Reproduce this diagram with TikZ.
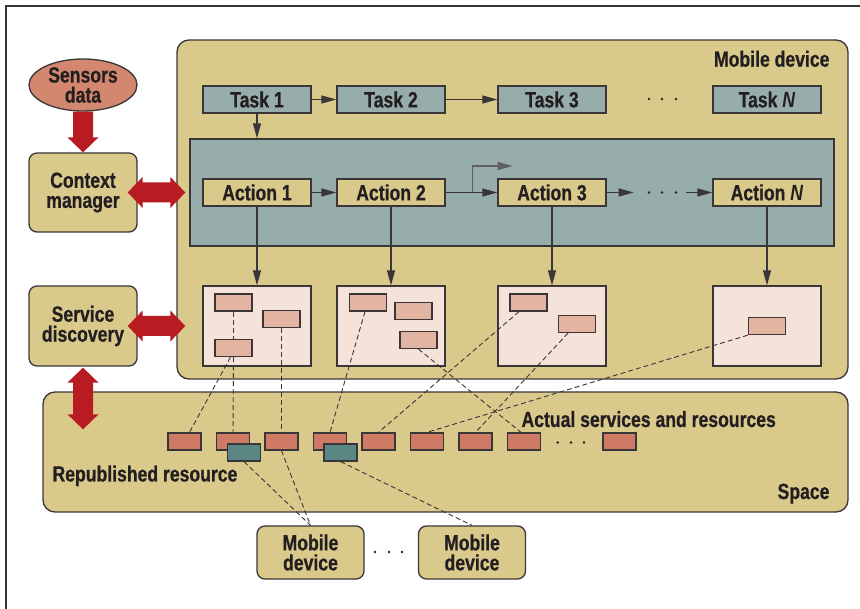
\documentclass[tikz,border=0pt]{standalone}
\usepackage{fontspec}
\setmainfont{Liberation Sans}[FakeStretch=0.8, BoldFeatures={FakeBold=0.6}]
\usetikzlibrary{arrows.meta,calc,shapes.geometric}
\definecolor{cTan}{HTML}{D9C98B}
\definecolor{cTeal}{HTML}{97ADAB}
\definecolor{cPink}{HTML}{F5E2D9}
\definecolor{cSalm}{HTML}{E4B4A2}
\definecolor{cRes}{HTML}{CF7A64}
\definecolor{cDTeal}{HTML}{5A8784}
\definecolor{cRed}{HTML}{B81C22}
\definecolor{cSens}{HTML}{D4876F}
\definecolor{cLine}{HTML}{3A3637}
\definecolor{cText}{HTML}{231F20}
\newcommand{\hdarrow}[2]{%
  \fill[cRed] let \p1=#1, \p2=#2 in
   (\x1,\y1) -- (\x1+15pt,\y1+15.5pt) -- (\x1+15pt,\y1+10pt) -- (\x2-15pt,\y1+10pt) -- (\x2-15pt,\y1+15.5pt) -- (\x2,\y1) -- (\x2-15pt,\y1-15.5pt) -- (\x2-15pt,\y1-10pt) -- (\x1+15pt,\y1-10pt) -- (\x1+15pt,\y1-15.5pt) -- cycle;}
\newcommand{\vdarrow}[2]{%
  \fill[cRed] let \p1=#1, \p2=#2 in
   (\x1,\y1) -- (\x1+15.5pt,\y1-15pt) -- (\x1+10pt,\y1-15pt) -- (\x1+10pt,\y2+15pt) -- (\x1+15.5pt,\y2+15pt) -- (\x1,\y2) -- (\x1-15.5pt,\y2+15pt) -- (\x1-10pt,\y2+15pt) -- (\x1-10pt,\y1-15pt) -- (\x1-15.5pt,\y1-15pt) -- cycle;}
\newcommand{\vsarrow}[2]{%
  \fill[cRed] let \p1=#1, \p2=#2 in
   (\x1-10pt,\y1) -- (\x1+10pt,\y1) -- (\x1+10pt,\y2+15pt) -- (\x1+15.5pt,\y2+15pt) -- (\x1,\y2) -- (\x1-15.5pt,\y2+15pt) -- (\x1-10pt,\y2+15pt) -- cycle;}
\begin{document}
\begin{tikzpicture}[x=1pt,y=-1pt,
  txt/.style={text=cText, font=\fontsize{22}{20}\selectfont\bfseries, align=center},
  box/.style={draw=cLine, line width=1.3pt, inner sep=0pt, txt},
  bigbox/.style={box, fill=cTan, rounded corners=12pt},
  rbox/.style={box, fill=cTan, rounded corners=8pt, minimum width=108pt, minimum height=79pt},
  taskbox/.style={box, fill=cTeal, minimum width=108pt, minimum height=27pt},
  actbox/.style={box, fill=cTan, minimum width=108pt, minimum height=27pt},
  panel/.style={box, fill=cPink, minimum width=108pt, minimum height=80pt},
  sbox/.style={box, fill=cSalm, minimum width=37pt, minimum height=17pt},
  resbox/.style={box, fill=cRes, minimum width=33pt, minimum height=17pt},
  tealbox/.style={box, fill=cDTeal, minimum width=33pt, minimum height=17pt},
  arr/.style={line width=1.1pt, draw=cLine, -{Triangle[length=15pt,width=8pt]}},
  dsh/.style={line width=0.9pt, draw=cLine, dash pattern=on 5pt off 3pt},
  dotc/.style={fill=cText}
]
\useasboundingbox (0,0) rectangle (860,609);
\fill[white] (0,0) rectangle (860,609);
% frame
\draw[line width=2pt, cLine] (6,609) -- (6,6.5) -- (860,6.5);

% big containers
\node[bigbox, minimum width=671pt, minimum height=339pt] (md) at (512.5,209.5) {};
\node[bigbox, minimum width=805pt, minimum height=120pt] (sp) at (445.5,452) {};
\node[box, fill=cTeal, minimum width=644pt, minimum height=107pt] (ap) at (512,192.5) {};

% left column
\node[box, ellipse, fill=cSens, minimum width=108pt, minimum height=52pt] (sens) at (83,85) {Sensors\\data};
\node[rbox] (ctx) at (83,192.5) {Context\\manager};
\node[rbox, minimum height=80pt] (sd) at (83,326) {Service\\discovery};

% labels
\node[txt, anchor=base east] (lmd) at (833,66.7) {Mobile device};
\node[txt, anchor=base west] (lact) at (518,427) {Actual services and resources};
\node[txt, anchor=base west] (lrep) at (49,481.5) {Republished resource};
\node[txt, anchor=base east] (lsp) at (833,499) {Space};

% tasks
\node[taskbox] (t1) at (257,99.5) {Task 1};
\node[taskbox] (t2) at (391,99.5) {Task 2};
\node[taskbox] (t3) at (552,99.5) {Task 3};
\node[taskbox] (tn) at (767,99.5) {Task \textit{N}};
\draw[arr] (t1.east) -- (t2.west);
\draw[arr] (t2.east) -- (t3.west);
\draw[arr] (t1.south) -- (t1.south |- ap.north);
\foreach \x in {649,662,676} \fill[dotc] (\x,99) circle (1.3pt);

% actions
\node[actbox] (a1) at (257,192.5) {Action 1};
\node[actbox] (a2) at (391,192.5) {Action 2};
\node[actbox] (a3) at (552,192.5) {Action 3};
\node[actbox] (an) at (767,192.5) {Action \textit{N}};
\draw[arr] (a1.east) -- (a2.west);
\draw[arr] (a2.east) -- (a3.west);
\coordinate (br) at ($(a2.east)+(27,0)$);
\draw[arr, draw=cLine!80] (br) -- ++(0,-26.5) -- ++(40,0);
\coordinate (ad) at ($(a3.east)+(27,0)$);
\draw[arr] (a3.east) -- (ad);
\coordinate (ae) at ($(an.west)+(-26,0)$);
\draw[arr] (ae) -- (an.west);
\foreach \x in {649,662,676} \fill[dotc] (\x,192.5) circle (1.3pt);

% panels
\node[panel] (p1) at (257,326) {};
\node[panel] (p2) at (391,326) {};
\node[panel] (p3) at (552,326) {};
\node[panel] (pn) at (767,326) {};
\draw[arr] (a1.south) -- (p1.north);
\draw[arr] (a2.south) -- (p2.north);
\draw[arr] (a3.south) -- (p3.north);
\draw[arr] (an.south) -- (pn.north);

\node[sbox] (p1a) at (233.5,302.5) {};
\node[sbox] (p1b) at (281.5,319) {};
\node[sbox] (p1c) at (233.5,348) {};
\node[sbox] (p2a) at (368,302.5) {};
\node[sbox] (p2b) at (413.5,311) {};
\node[sbox] (p2c) at (418.5,340) {};
\node[sbox] (p3a) at (528.5,302.5) {};
\node[sbox] (p3b) at (577,324) {};
\node[sbox] (pna) at (767,326) {};

% space resources
\foreach \i/\x in {1/184.5,2/233,3/281.5,4/330,5/378.5,6/427,7/475.5,8/524,9/619.5}
  \node[resbox] (r\i) at (\x,441.5) {};
\foreach \x in {557.7,571,584} \fill[dotc] (\x,442.5) circle (1.3pt);

% mobile devices
\node[rbox, minimum width=107pt, minimum height=53pt] (m1) at (310.5,552.5) {Mobile\\device};
\node[rbox, minimum width=107pt, minimum height=53pt] (m2) at (472,552.5) {Mobile\\device};
\foreach \x in {375,389,402} \fill[dotc] (\x,552) circle (1.3pt);

% dashed links
\draw[dsh] (p1a.south) -- (p1c.north);
\draw[dsh] (p1c.south) -- (r2.north);
\draw[dsh] ($(p1c.south)+(-3,0)$) -- ($(r1.north)+(5,0)$);
\draw[dsh] (p1b.south) -- (r3.north);
\draw[dsh] ($(p2a.south)+(-3,0)$) -- (r4.north);
\draw[dsh] (p2c.south) -- ($(r8.north)+(-3,0)$);
\draw[dsh] ($(p3a.south)+(-9.5,0)$) -- (r5.north);
\draw[dsh] ($(p3b.south)+(-9,0)$) -- (r7.north);
\draw[dsh] (pna.south west) -- (r6.north);

\node[tealbox] (g1) at (244,452.5) {};
\node[tealbox] (g2) at (340.5,452.5) {};
\draw[dsh] (g1.south) -- (m1.north);
\draw[dsh] (r3.south) -- (m1.north);
\draw[dsh] (g2.south) -- (m2.north);

% red arrows
\vsarrow{(sens.south)}{(ctx.north)}
\hdarrow{($(ctx.east)+(-10,0)$)}{($(md.west)+(9,0)$)}
\hdarrow{($(sd.east)+(-10,0)$)}{($(md.west)+(9,0)$)}
\vdarrow{($(sd.south)+(0,1)$)}{($(sd.south |- sp.north)+(0,38)$)}
\end{tikzpicture}
\end{document}
